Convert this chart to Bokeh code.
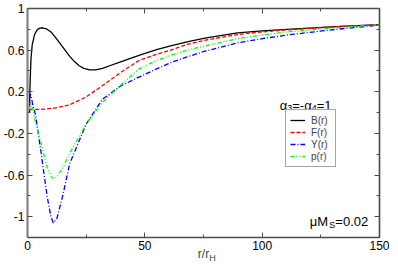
from bokeh.plotting import figure
from bokeh.models import (FixedTicker, LinearAxis, Label, Legend, LegendItem, Range1d)
from bokeh.embed import file_html
from bokeh.resources import INLINE

# ---------------- data ----------------
r_B = [0.8, 1.0, 1.2, 1.5, 2, 3, 4, 5, 6.3, 8, 10, 12, 14, 16, 18, 20, 22, 24, 26.5, 29,
       32, 35, 40, 47.5, 55, 61, 68, 75.6, 89.5, 100, 110.5, 131.5, 150]
B = [0.0, 0.2, 0.35, 0.52, 0.65, 0.75, 0.79, 0.81, 0.815, 0.805, 0.775, 0.72, 0.66, 0.60,
     0.54, 0.49, 0.45, 0.425, 0.41, 0.41, 0.425, 0.45, 0.49, 0.55, 0.605, 0.64, 0.68, 0.715,
     0.765, 0.785, 0.80, 0.825, 0.845]

r_F = [0.8, 1.5, 3, 5, 8.4, 12, 18, 25, 32, 40, 47.5, 55, 61, 68, 75.6, 89.5, 100, 110.5,
       131.5, 150]
F = [0.02, 0.03, 0.03, 0.03, 0.035, 0.045, 0.075, 0.15, 0.26, 0.39, 0.5, 0.56, 0.60, 0.655,
     0.695, 0.75, 0.775, 0.795, 0.825, 0.845]

r_Y = [0.8, 1.2, 1.6, 2.2, 3.4, 5.5, 8.4, 10, 11, 12.5, 15, 18, 25, 32, 40, 47.5, 55, 61,
       68, 75.6, 89.5, 100, 110.5, 131.5, 150]
Y = [0.05, 0.18, 0.15, 0.08, -0.02, -0.34, -0.81, -1.0, -1.06, -1.02, -0.8, -0.49, -0.11,
     0.13, 0.26, 0.34, 0.42, 0.48, 0.535, 0.59, 0.67, 0.71, 0.745, 0.80, 0.84]

r_p = [0.8, 1.2, 1.6, 2.2, 3.4, 5.5, 8.4, 10, 11, 12.5, 15, 18, 25, 32, 39, 47.5, 55, 61,
       68, 75.6, 89.5, 100, 110.5, 131.5, 150]
P = [0.03, 0.1, 0.08, 0.03, -0.09, -0.27, -0.53, -0.61, -0.635, -0.62, -0.53, -0.39, -0.11,
     0.10, 0.25, 0.42, 0.50, 0.55, 0.60, 0.64, 0.71, 0.745, 0.775, 0.815, 0.845]

x_major = [0, 50, 100, 150]
x_minor = [25, 75, 125]
x_labels = ["0", "50", "100", "150"]
y_major = [1, 0.6, 0.2, -0.2, -0.6, -1]
y_minor = [0.8, 0.4, 0, -0.4, -0.8]
y_labels = ["1", "0.6", "0.2", "-0.2", "-0.6", "-1"]

series_names = ["B(r)", "F(r)", "Y(r)", "p(r)"]
x_title = "r/r"
x_title_sub = "H"

FONT = "Liberation Sans"
AX = "#4d4d4d"

p = figure(width=390, height=265, output_backend="svg", toolbar_location=None,
           x_range=Range1d(0, 150), y_range=Range1d(-1.2, 1),
           min_border_left=27, min_border_right=11, min_border_top=8, min_border_bottom=27,
           x_axis_type=None, y_axis_type=None)
p.grid.visible = False
p.outline_line_color = AX
p.outline_line_width = 1.2
p.background_fill_color = "white"
p.border_fill_color = "white"


def style_axis(ax, labels_on, overrides=None):
    ax.axis_line_color = AX
    ax.axis_line_width = 1.5
    ax.major_tick_line_color = AX
    ax.minor_tick_line_color = AX
    ax.major_tick_in = 5
    ax.major_tick_out = 0
    ax.minor_tick_in = 3
    ax.minor_tick_out = 0
    ax.major_label_text_font = FONT
    if labels_on:
        ax.major_label_text_color = "black"
        ax.major_label_text_font_size = "12px"
        ax.major_label_standoff = 3
        ax.major_label_overrides = overrides
    else:
        ax.major_label_text_color = None
        ax.major_label_text_font_size = "1px"
        ax.major_label_standoff = 0


xt = FixedTicker(ticks=x_major, minor_ticks=x_minor)
yt = FixedTicker(ticks=y_major, minor_ticks=y_minor)
x_over = {float(v): s for v, s in zip(x_major, x_labels)}
y_over = {float(v): s for v, s in zip(y_major, y_labels)}

xb = LinearAxis(ticker=xt)
style_axis(xb, True, x_over)
xb.major_label_standoff = 3
xb.axis_label = x_title
xb.axis_label_text_font = FONT
xb.axis_label_text_font_size = "12px"
xb.axis_label_text_font_style = "normal"
xb.axis_label_standoff = -6
p.add_layout(xb, "below")

# second, invisible axis carrying the subscript of the x title
xh = LinearAxis(ticker=FixedTicker(ticks=[]))
xh.axis_line_color = None
xh.major_tick_line_color = None
xh.minor_tick_line_color = None
xh.major_tick_in = 0
xh.major_tick_out = 0
xh.minor_tick_in = 0
xh.minor_tick_out = 0
xh.major_label_text_color = None
xh.major_label_text_font_size = "1px"
xh.major_label_standoff = 0
xh.axis_label = "\u2002\u2002\u2002\u2002" + x_title_sub
xh.axis_label_text_font = FONT
xh.axis_label_text_font_size = "9px"
xh.axis_label_text_font_style = "normal"
xh.axis_label_standoff = -11
p.add_layout(xh, "below")

xa = LinearAxis(ticker=xt)
style_axis(xa, False)
p.add_layout(xa, "above")
yl = LinearAxis(ticker=yt)
style_axis(yl, True, y_over)
yl.axis_line_color = "#808080"
yl.axis_line_width = 2
p.add_layout(yl, "left")
yr = LinearAxis(ticker=yt)
style_axis(yr, False)
p.add_layout(yr, "right")

rB = p.line(r_B, B, line_color="black", line_width=1.3)
rF = p.line(r_F, F, line_color="#ff0000", line_width=1.3, line_dash="4 2")
rY = p.line(r_Y, Y, line_color="#0000ff", line_width=1.3, line_dash="5 2 1 2")
rP = p.line(r_p, P, line_color="#00ff00", line_width=1.3, line_dash="4 2 1 2 1 2")

legend = Legend(items=[LegendItem(label=n, renderers=[r]) for n, r in
                       zip(series_names, [rB, rF, rY, rP])],
                location=(258, 70), orientation="vertical")
legend.label_text_font = FONT
legend.label_text_font_size = "10px"
legend.glyph_width = 15
legend.glyph_height = 12
legend.label_height = 12
legend.label_standoff = 6
legend.spacing = 0
legend.padding = 4
legend.margin = 0
legend.border_line_color = AX
legend.border_line_width = 1
legend.background_fill_alpha = 1
p.add_layout(legend, "center")


def lab(text, x, y, size="13px", xoff=0, yoff=0):
    p.add_layout(Label(x=x, y=y, text=text, x_offset=xoff, y_offset=yoff,
                       text_font=FONT, text_font_size=size, text_color="black",
                       text_align="left", text_baseline="alphabetic"))


# legend title  alpha_3=-alpha_4=1
tx, ty = 107.5, 0.072
lab("\u03b1", tx, ty, size="13px")
lab("3", tx, ty, size="9px", xoff=7.5, yoff=-3)
lab("=-\u03b1", tx, ty, size="13px", xoff=12.5)
lab("4", tx, ty, size="9px", xoff=32, yoff=-3)
lab("=1", tx, ty, size="13px", xoff=37)

# mu M_S = 0.02
mx, my = 120.3, -1.048
lab("\u03bcM", mx, my)
lab("S", mx, my, size="9px", xoff=19.5, yoff=-3)
lab("=0.02", mx, my, xoff=25.5)

open("out.html", "w").write(file_html(p, INLINE))
